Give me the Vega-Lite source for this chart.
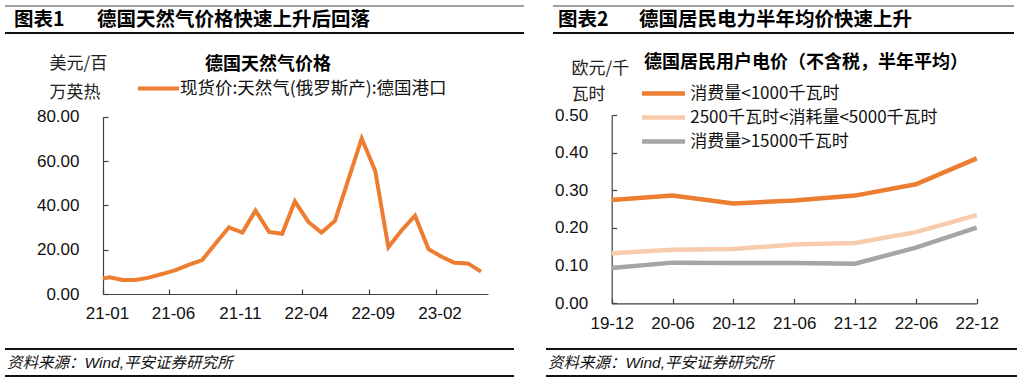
{
  "$schema": "https://vega.github.io/schema/vega-lite/v6.json",
  "padding": {"left": 4, "top": 0, "right": 0, "bottom": 0},
  "background": "white",
  "bounds": "flush",
  "spacing": 22,
  "resolve": {"scale": {"color": "independent"}, "legend": {"color": "independent"}},
  "config": {
    "view": {"stroke": null},
    "axis": {
      "domainColor": "#404040", "domainWidth": 1.2,
      "tickColor": "#404040", "tickWidth": 1.2, "tickSize": -5,
      "labelFont": "Liberation Sans", "labelFontSize": 17, "labelColor": "#111",
      "titleFont": "Noto Sans CJK SC", "titleFontSize": 17, "titleFontWeight": "normal", "titleColor": "#222",
      "grid": false, "labelFlush": false
    },
    "legend": {
      "orient": "none", "title": null,
      "labelFont": "Noto Sans CJK SC", "labelFontSize": 17.5, "labelColor": "#111",
      "labelLimit": 600, "padding": 0
    }
  },
  "hconcat": [
    {
      "width": 519, "height": 383,
      "resolve": {"scale": {"x": "independent", "y": "independent"}, "axis": {"x": "independent", "y": "independent"}},
      "layer": [
        {
          "data": {"values": [{"tag": "图表1", "heading": "德国天然气价格快速上升后回落", "chart": "德国天然气价格", "source": "资料来源：Wind,平安证券研究所"}]},
          "layer": [
            {"mark": {"type": "rule", "color": "#444", "strokeWidth": 1.2},
             "encoding": {
               "x": {"datum": 0, "type": "quantitative", "scale": {"domain": [0, 1], "range": [0, 519]}, "axis": null},
               "x2": {"datum": 1},
               "y": {"datum": 0.0157, "type": "quantitative", "scale": {"domain": [0, 1], "range": [0, 383]}, "axis": null}}},
            {"mark": {"type": "rule", "color": "#111", "strokeWidth": 2},
             "encoding": {
               "x": {"datum": 0, "type": "quantitative", "scale": {"domain": [0, 1], "range": [0, 519]}, "axis": null},
               "x2": {"datum": 1},
               "y": {"datum": 0.0862, "type": "quantitative", "scale": {"domain": [0, 1], "range": [0, 383]}, "axis": null}}},
            {"mark": {"type": "text", "font": "Noto Sans CJK SC", "fontWeight": "bold", "fontSize": 19.5, "align": "left", "baseline": "middle", "color": "#000"},
             "encoding": {"text": {"field": "tag"},
               "x": {"datum": 0.0173, "type": "quantitative", "scale": {"domain": [0, 1], "range": [0, 519]}, "axis": null},
               "y": {"datum": 0.0535, "type": "quantitative", "scale": {"domain": [0, 1], "range": [0, 383]}, "axis": null}}},
            {"mark": {"type": "text", "font": "Noto Sans CJK SC", "fontWeight": "bold", "fontSize": 19.5, "align": "left", "baseline": "middle", "color": "#000"},
             "encoding": {"text": {"field": "heading"},
               "x": {"datum": 0.1772, "type": "quantitative", "scale": {"domain": [0, 1], "range": [0, 519]}, "axis": null},
               "y": {"datum": 0.0535, "type": "quantitative", "scale": {"domain": [0, 1], "range": [0, 383]}, "axis": null}}},
            {"mark": {"type": "text", "font": "Noto Sans CJK SC", "fontWeight": "bold", "fontSize": 18, "align": "center", "baseline": "middle", "color": "#000"},
             "encoding": {"text": {"field": "chart"},
               "x": {"datum": 0.5067, "type": "quantitative", "scale": {"domain": [0, 1], "range": [0, 519]}, "axis": null},
               "y": {"datum": 0.1697, "type": "quantitative", "scale": {"domain": [0, 1], "range": [0, 383]}, "axis": null}}},
            {"mark": {"type": "rule", "color": "#111", "strokeWidth": 1.8},
             "encoding": {
               "x": {"datum": 0, "type": "quantitative", "scale": {"domain": [0, 1], "range": [0, 519]}, "axis": null},
               "x2": {"datum": 0.9807},
               "y": {"datum": 0.9112, "type": "quantitative", "scale": {"domain": [0, 1], "range": [0, 383]}, "axis": null}}},
            {"mark": {"type": "rule", "color": "#111", "strokeWidth": 1.8},
             "encoding": {
               "x": {"datum": 0, "type": "quantitative", "scale": {"domain": [0, 1], "range": [0, 519]}, "axis": null},
               "x2": {"datum": 0.9807},
               "y": {"datum": 0.9817, "type": "quantitative", "scale": {"domain": [0, 1], "range": [0, 383]}, "axis": null}}},
            {"mark": {"type": "text", "font": "Liberation Sans, Noto Sans CJK SC", "fontStyle": "italic", "fontSize": 15.5, "align": "left", "baseline": "middle", "color": "#111"},
             "encoding": {"text": {"field": "source"},
               "x": {"datum": 0.0039, "type": "quantitative", "scale": {"domain": [0, 1], "range": [0, 519]}, "axis": null},
               "y": {"datum": 0.9465, "type": "quantitative", "scale": {"domain": [0, 1], "range": [0, 383]}, "axis": null}}}
          ]
        },
        {
          "data": {"values": [
            {"date": "2021-01-01", "value": 7.0, "series": "现货价:天然气(俄罗斯产):德国港口"},
            {"date": "2021-01-16", "value": 7.5, "series": "现货价:天然气(俄罗斯产):德国港口"},
            {"date": "2021-02-15", "value": 6.3, "series": "现货价:天然气(俄罗斯产):德国港口"},
            {"date": "2021-03-16", "value": 6.3, "series": "现货价:天然气(俄罗斯产):德国港口"},
            {"date": "2021-04-16", "value": 7.4, "series": "现货价:天然气(俄罗斯产):德国港口"},
            {"date": "2021-05-16", "value": 9.0, "series": "现货价:天然气(俄罗斯产):德国港口"},
            {"date": "2021-06-16", "value": 10.8, "series": "现货价:天然气(俄罗斯产):德国港口"},
            {"date": "2021-07-16", "value": 13.1, "series": "现货价:天然气(俄罗斯产):德国港口"},
            {"date": "2021-08-16", "value": 15.3, "series": "现货价:天然气(俄罗斯产):德国港口"},
            {"date": "2021-09-16", "value": 22.9, "series": "现货价:天然气(俄罗斯产):德国港口"},
            {"date": "2021-10-16", "value": 30.1, "series": "现货价:天然气(俄罗斯产):德国港口"},
            {"date": "2021-11-16", "value": 27.7, "series": "现货价:天然气(俄罗斯产):德国港口"},
            {"date": "2021-12-16", "value": 37.6, "series": "现货价:天然气(俄罗斯产):德国港口"},
            {"date": "2022-01-16", "value": 28.0, "series": "现货价:天然气(俄罗斯产):德国港口"},
            {"date": "2022-02-15", "value": 27.2, "series": "现货价:天然气(俄罗斯产):德国港口"},
            {"date": "2022-03-16", "value": 41.8, "series": "现货价:天然气(俄罗斯产):德国港口"},
            {"date": "2022-04-16", "value": 32.5, "series": "现货价:天然气(俄罗斯产):德国港口"},
            {"date": "2022-05-16", "value": 27.7, "series": "现货价:天然气(俄罗斯产):德国港口"},
            {"date": "2022-06-16", "value": 33.1, "series": "现货价:天然气(俄罗斯产):德国港口"},
            {"date": "2022-07-16", "value": 51.4, "series": "现货价:天然气(俄罗斯产):德国港口"},
            {"date": "2022-08-16", "value": 70.2, "series": "现货价:天然气(俄罗斯产):德国港口"},
            {"date": "2022-09-16", "value": 55.5, "series": "现货价:天然气(俄罗斯产):德国港口"},
            {"date": "2022-10-16", "value": 21.1, "series": "现货价:天然气(俄罗斯产):德国港口"},
            {"date": "2022-11-16", "value": 28.9, "series": "现货价:天然气(俄罗斯产):德国港口"},
            {"date": "2022-12-16", "value": 35.3, "series": "现货价:天然气(俄罗斯产):德国港口"},
            {"date": "2023-01-16", "value": 20.2, "series": "现货价:天然气(俄罗斯产):德国港口"},
            {"date": "2023-02-15", "value": 16.8, "series": "现货价:天然气(俄罗斯产):德国港口"},
            {"date": "2023-03-16", "value": 14.1, "series": "现货价:天然气(俄罗斯产):德国港口"},
            {"date": "2023-04-16", "value": 13.8, "series": "现货价:天然气(俄罗斯产):德国港口"},
            {"date": "2023-05-16", "value": 10.1, "series": "现货价:天然气(俄罗斯产):德国港口"}
          ]},
          "mark": {"type": "line", "strokeWidth": 4},
          "encoding": {
            "x": {"field": "date", "type": "temporal",
              "scale": {"type": "utc", "range": [98, 483], "domain": [{"year": 2021, "month": 1, "date": 1, "utc": true}, {"year": 2023, "month": 6, "date": 1, "utc": true}]},
              "axis": {"title": null, "format": "%y-%m", "labelAngle": 0, "labelOffset": 4, "labelPadding": 16, "offset": -89,
                "values": [
                  {"year": 2021, "month": 1, "date": 1, "utc": true},
                  {"year": 2021, "month": 6, "date": 1, "utc": true},
                  {"year": 2021, "month": 11, "date": 1, "utc": true},
                  {"year": 2022, "month": 4, "date": 1, "utc": true},
                  {"year": 2022, "month": 9, "date": 1, "utc": true},
                  {"year": 2023, "month": 2, "date": 1, "utc": true}
                ]}},
            "y": {"field": "value", "type": "quantitative", "scale": {"domain": [0, 80], "range": [294, 116.7]},
              "axis": {"values": [0, 20, 40, 60, 80], "format": ".2f", "labelPadding": 29, "offset": -98,
                "title": ["美元/百", "万英热"], "titleAngle": 0, "titleAlign": "left", "titleBaseline": "middle",
                "titleX": -54, "titleY": 63, "titleLineHeight": 29}},
            "color": {"field": "series", "type": "nominal", "scale": {"range": ["#ED7D31"]},
              "legend": {"legendX": 131, "legendY": 66, "symbolType": "stroke", "symbolSize": 1681, "symbolStrokeWidth": 4, "labelOffset": -1, "labelFontSize": 17.5}}
          }
        }
      ]
    },
    {
      "width": 471, "height": 383,
      "resolve": {"scale": {"x": "independent", "y": "independent"}, "axis": {"x": "independent", "y": "independent"}},
      "layer": [
        {
          "data": {"values": [{"tag": "图表2", "heading": "德国居民电力半年均价快速上升", "chart": "德国居民用户电价（不含税，半年平均）", "source": "资料来源：Wind,平安证券研究所"}]},
          "layer": [
            {"mark": {"type": "rule", "color": "#444", "strokeWidth": 1.2},
             "encoding": {
               "x": {"datum": 0.0149, "type": "quantitative", "scale": {"domain": [0, 1], "range": [0, 471]}, "axis": null},
               "x2": {"datum": 0.9936},
               "y": {"datum": 0.0157, "type": "quantitative", "scale": {"domain": [0, 1], "range": [0, 383]}, "axis": null}}},
            {"mark": {"type": "rule", "color": "#111", "strokeWidth": 2},
             "encoding": {
               "x": {"datum": 0.0149, "type": "quantitative", "scale": {"domain": [0, 1], "range": [0, 471]}, "axis": null},
               "x2": {"datum": 0.9936},
               "y": {"datum": 0.0862, "type": "quantitative", "scale": {"domain": [0, 1], "range": [0, 383]}, "axis": null}}},
            {"mark": {"type": "text", "font": "Noto Sans CJK SC", "fontWeight": "bold", "fontSize": 19.5, "align": "left", "baseline": "middle", "color": "#000"},
             "encoding": {"text": {"field": "tag"},
               "x": {"datum": 0.0255, "type": "quantitative", "scale": {"domain": [0, 1], "range": [0, 471]}, "axis": null},
               "y": {"datum": 0.0535, "type": "quantitative", "scale": {"domain": [0, 1], "range": [0, 383]}, "axis": null}}},
            {"mark": {"type": "text", "font": "Noto Sans CJK SC", "fontWeight": "bold", "fontSize": 19.5, "align": "left", "baseline": "middle", "color": "#000"},
             "encoding": {"text": {"field": "heading"},
               "x": {"datum": 0.1975, "type": "quantitative", "scale": {"domain": [0, 1], "range": [0, 471]}, "axis": null},
               "y": {"datum": 0.0535, "type": "quantitative", "scale": {"domain": [0, 1], "range": [0, 383]}, "axis": null}}},
            {"mark": {"type": "text", "font": "Noto Sans CJK SC", "fontWeight": "bold", "fontSize": 18, "align": "center", "baseline": "middle", "color": "#000"},
             "encoding": {"text": {"field": "chart"},
               "x": {"datum": 0.5520, "type": "quantitative", "scale": {"domain": [0, 1], "range": [0, 471]}, "axis": null},
               "y": {"datum": 0.1645, "type": "quantitative", "scale": {"domain": [0, 1], "range": [0, 383]}, "axis": null}}},
            {"mark": {"type": "rule", "color": "#111", "strokeWidth": 1.8},
             "encoding": {
               "x": {"datum": 0, "type": "quantitative", "scale": {"domain": [0, 1], "range": [0, 471]}, "axis": null},
               "x2": {"datum": 1},
               "y": {"datum": 0.9112, "type": "quantitative", "scale": {"domain": [0, 1], "range": [0, 383]}, "axis": null}}},
            {"mark": {"type": "rule", "color": "#111", "strokeWidth": 1.8},
             "encoding": {
               "x": {"datum": 0, "type": "quantitative", "scale": {"domain": [0, 1], "range": [0, 471]}, "axis": null},
               "x2": {"datum": 1},
               "y": {"datum": 0.9817, "type": "quantitative", "scale": {"domain": [0, 1], "range": [0, 383]}, "axis": null}}},
            {"mark": {"type": "text", "font": "Liberation Sans, Noto Sans CJK SC", "fontStyle": "italic", "fontSize": 15.5, "align": "left", "baseline": "middle", "color": "#111"},
             "encoding": {"text": {"field": "source"},
               "x": {"datum": 0.0042, "type": "quantitative", "scale": {"domain": [0, 1], "range": [0, 471]}, "axis": null},
               "y": {"datum": 0.9465, "type": "quantitative", "scale": {"domain": [0, 1], "range": [0, 383]}, "axis": null}}}
          ]
        },
        {
          "data": {"values": [
            {"period": "19-12", "series": "消费量<1000千瓦时", "value": 0.274},
            {"period": "20-06", "series": "消费量<1000千瓦时", "value": 0.286},
            {"period": "20-12", "series": "消费量<1000千瓦时", "value": 0.265},
            {"period": "21-06", "series": "消费量<1000千瓦时", "value": 0.273},
            {"period": "21-12", "series": "消费量<1000千瓦时", "value": 0.286},
            {"period": "22-06", "series": "消费量<1000千瓦时", "value": 0.316},
            {"period": "22-12", "series": "消费量<1000千瓦时", "value": 0.385},
            {"period": "19-12", "series": "2500千瓦时<消耗量<5000千瓦时", "value": 0.133},
            {"period": "20-06", "series": "2500千瓦时<消耗量<5000千瓦时", "value": 0.142},
            {"period": "20-12", "series": "2500千瓦时<消耗量<5000千瓦时", "value": 0.144},
            {"period": "21-06", "series": "2500千瓦时<消耗量<5000千瓦时", "value": 0.156},
            {"period": "21-12", "series": "2500千瓦时<消耗量<5000千瓦时", "value": 0.160},
            {"period": "22-06", "series": "2500千瓦时<消耗量<5000千瓦时", "value": 0.189},
            {"period": "22-12", "series": "2500千瓦时<消耗量<5000千瓦时", "value": 0.234},
            {"period": "19-12", "series": "消费量>15000千瓦时", "value": 0.094},
            {"period": "20-06", "series": "消费量>15000千瓦时", "value": 0.108},
            {"period": "20-12", "series": "消费量>15000千瓦时", "value": 0.107},
            {"period": "21-06", "series": "消费量>15000千瓦时", "value": 0.107},
            {"period": "21-12", "series": "消费量>15000千瓦时", "value": 0.105},
            {"period": "22-06", "series": "消费量>15000千瓦时", "value": 0.148},
            {"period": "22-12", "series": "消费量>15000千瓦时", "value": 0.201}
          ]},
          "mark": {"type": "line", "strokeWidth": 4.5},
          "encoding": {
            "x": {"field": "period", "type": "ordinal", "sort": null, "scale": {"type": "point", "padding": 0, "range": [65.7, 430.7]},
              "axis": {"title": null, "labelAngle": 0, "labelPadding": 17, "offset": -79.7}},
            "y": {"field": "value", "type": "quantitative", "scale": {"domain": [0, 0.5], "range": [303.3, 115]},
              "axis": {"values": [0, 0.1, 0.2, 0.3, 0.4, 0.5], "format": ".2f", "labelPadding": 29, "offset": -65.7,
                "title": ["欧元/千", "瓦时"], "titleAngle": 0, "titleAlign": "left", "titleBaseline": "middle",
                "titleX": -40.7, "titleY": 68, "titleLineHeight": 26}},
            "color": {"field": "series", "type": "nominal",
              "sort": ["消费量<1000千瓦时", "2500千瓦时<消耗量<5000千瓦时", "消费量>15000千瓦时"],
              "scale": {"domain": ["消费量<1000千瓦时", "2500千瓦时<消耗量<5000千瓦时", "消费量>15000千瓦时"], "range": ["#ED7D31", "#F8CBAD", "#A5A5A5"]},
              "legend": {"legendX": 109, "legendY": 85, "symbolType": "M-4,0H4", "symbolSize": 115.6, "symbolStrokeWidth": 4.5, "rowPadding": 5, "labelOffset": 18.25, "labelFontSize": 17}}
          }
        }
      ]
    }
  ]
}
